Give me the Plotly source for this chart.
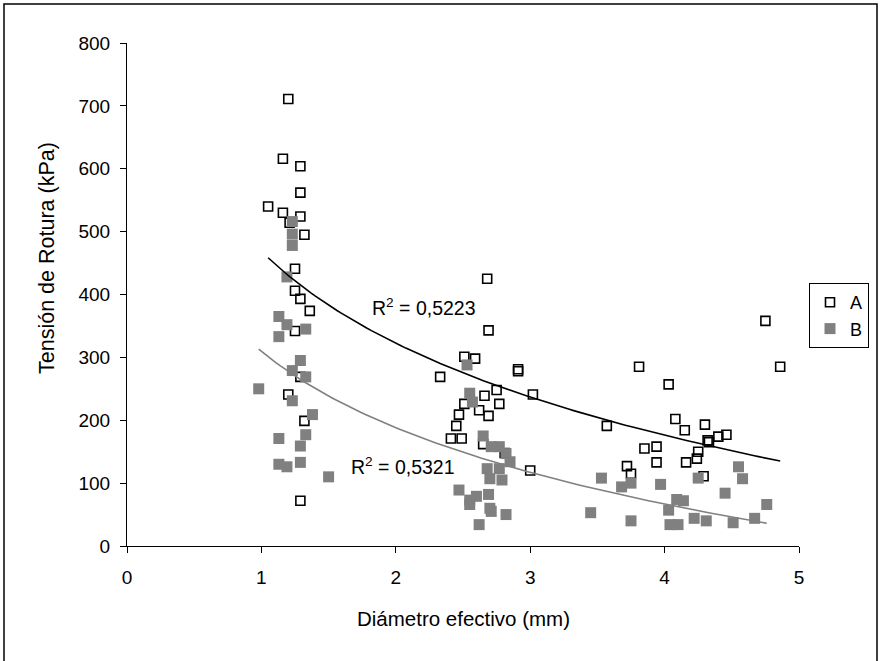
import numpy as np
import plotly.graph_objects as go

# Series A (open squares)
A_x = [1.20, 1.16, 1.29, 1.29, 1.05, 1.16, 1.29, 1.21, 1.32, 1.25, 1.25, 1.29, 1.36, 1.25, 1.29, 1.20, 1.32, 1.29,
       2.68, 2.69, 2.51, 2.59, 2.33, 2.91, 2.91, 2.75, 3.02, 2.66, 2.51, 2.77, 2.62, 2.47, 2.69, 2.45, 2.41, 2.49, 2.65, 2.81, 3.00,
       3.81, 4.86, 4.03, 4.75, 3.57, 4.08, 4.15, 4.30, 3.85, 3.94, 3.94, 3.72, 3.75, 4.16, 4.24, 4.25, 4.32, 4.33, 4.40, 4.46, 4.29]
A_y = [711, 616, 604, 562, 540, 530, 524, 514, 495, 441, 406, 393, 374, 342, 269, 241, 199, 72,
       425, 343, 301, 298, 269, 281, 278, 248, 241, 239, 226, 226, 216, 209, 207, 191, 171, 171, 162, 148, 120,
       285, 285, 257, 358, 191, 202, 184, 193, 155, 158, 133, 127, 115, 133, 139, 150, 168, 165, 174, 177, 111]

# Series B (grey filled squares)
B_x = [1.23, 1.23, 1.23, 1.19, 1.13, 1.19, 1.13, 1.33, 1.29, 1.23, 1.33, 0.98, 1.23, 1.38, 1.33, 1.13, 1.29, 1.13, 1.19, 1.29, 1.50,
       2.53, 2.55, 2.57, 2.65, 2.71, 2.77, 2.82, 2.85, 2.68, 2.77, 2.70, 2.79, 2.47, 2.69, 2.60, 2.55, 2.55, 2.70, 2.71, 2.82, 2.62,
       3.45, 3.53, 3.68, 3.75, 3.75, 3.97, 4.25, 4.55, 4.58, 4.45, 4.76, 4.09, 4.14, 4.03, 4.04, 4.10, 4.22, 4.31, 4.51, 4.67]
B_y = [516, 496, 478, 428, 365, 352, 333, 345, 295, 279, 269, 250, 231, 209, 177, 171, 159, 130, 126, 133, 110,
       288, 243, 229, 175, 158, 158, 147, 134, 123, 123, 107, 105, 89, 82, 79, 73, 66, 60, 55, 50, 34,
       53, 108, 94, 100, 40, 98, 108, 126, 107, 84, 66, 74, 72, 57, 34, 34, 44, 40, 37, 44]

R2_labels = ["R<sup>2</sup> = 0,5223", "R<sup>2</sup> = 0,5321"]
x_ticks = [0, 1, 2, 3, 4, 5]
y_ticks = [0, 100, 200, 300, 400, 500, 600, 700, 800]

FONT = "Liberation Sans, Arial, sans-serif"
W, H = 891, 661
L, R, T, B = 127, 92, 43, 115
PW, PH = W - L - R, H - T - B


def logfit(x, y):
    x = np.asarray(x, float)
    y = np.asarray(y, float)
    b, a = np.polyfit(np.log(x), y, 1)
    xs = np.linspace(x.min(), x.max(), 120)
    return xs, a + b * np.log(xs)


fig = go.Figure()
fig.add_trace(go.Scatter(x=A_x, y=A_y, mode="markers", name="A",
                         marker=dict(symbol="square-open", size=9, color="black", line=dict(width=1.6, color="black"))))
fig.add_trace(go.Scatter(x=B_x, y=B_y, mode="markers", name="B",
                         marker=dict(symbol="square", size=11, color="#808080", line=dict(width=0))))
xa, ya = logfit(A_x, A_y)
xb, yb = logfit(B_x, B_y)
fig.add_trace(go.Scatter(x=xa, y=ya, mode="lines", line=dict(color="black", width=1.6), showlegend=False, hoverinfo="skip"))
fig.add_trace(go.Scatter(x=xb, y=yb, mode="lines", line=dict(color="#808080", width=1.6), showlegend=False, hoverinfo="skip"))


def px2paper(px, py):
    return (px - L) / PW, (H - B - py) / PH


def label(px, py, text, size, angle=0):
    x, y = px2paper(px, py)
    fig.add_annotation(x=x, y=y, xref="paper", yref="paper", text=text, showarrow=False,
                       xanchor="center", yanchor="middle", textangle=angle,
                       font=dict(size=size, color="black", family=FONT))


label(424, 307, R2_labels[0], 19.5)
label(403, 466, R2_labels[1], 19.5)
label(463, 618, "Diámetro efectivo (mm)", 20.5)
label(47, 258, "Tensión de Rotura (kPa)", 21.5, -90)

# Outer border
bx0, by0 = px2paper(4, 4)
bx1, by1 = px2paper(877, 668)
fig.add_shape(type="rect", xref="paper", yref="paper", x0=bx0, y0=by1, x1=bx1, y1=by0,
              line=dict(color="black", width=1.5), layer="below")

lx, ly = px2paper(809, 283)
fig.update_layout(
    width=W, height=H,
    margin=dict(l=L, r=R, t=T, b=B),
    paper_bgcolor="white", plot_bgcolor="white",
    font=dict(family=FONT, size=19, color="black"),
    showlegend=True,
    legend=dict(x=lx, y=ly, xanchor="left", yanchor="top", bordercolor="black", borderwidth=1,
                bgcolor="white", font=dict(size=18, family=FONT), itemwidth=30, tracegroupgap=0),
    xaxis=dict(range=[0, 5], tickvals=x_ticks, ticktext=[str(v) for v in x_ticks], showgrid=False, zeroline=False,
               showline=True, linecolor="black", linewidth=1, ticks="outside", ticklen=6, tickcolor="black",
               tickfont=dict(size=19), ticklabelstandoff=8),
    yaxis=dict(range=[0, 800], tickvals=y_ticks, ticktext=[str(v) for v in y_ticks], showgrid=False, zeroline=False,
               showline=True, linecolor="black", linewidth=1, ticks="outside", ticklen=6, tickcolor="black",
               tickfont=dict(size=19), ticklabelstandoff=6),
)

fig.write_html("out.html")
